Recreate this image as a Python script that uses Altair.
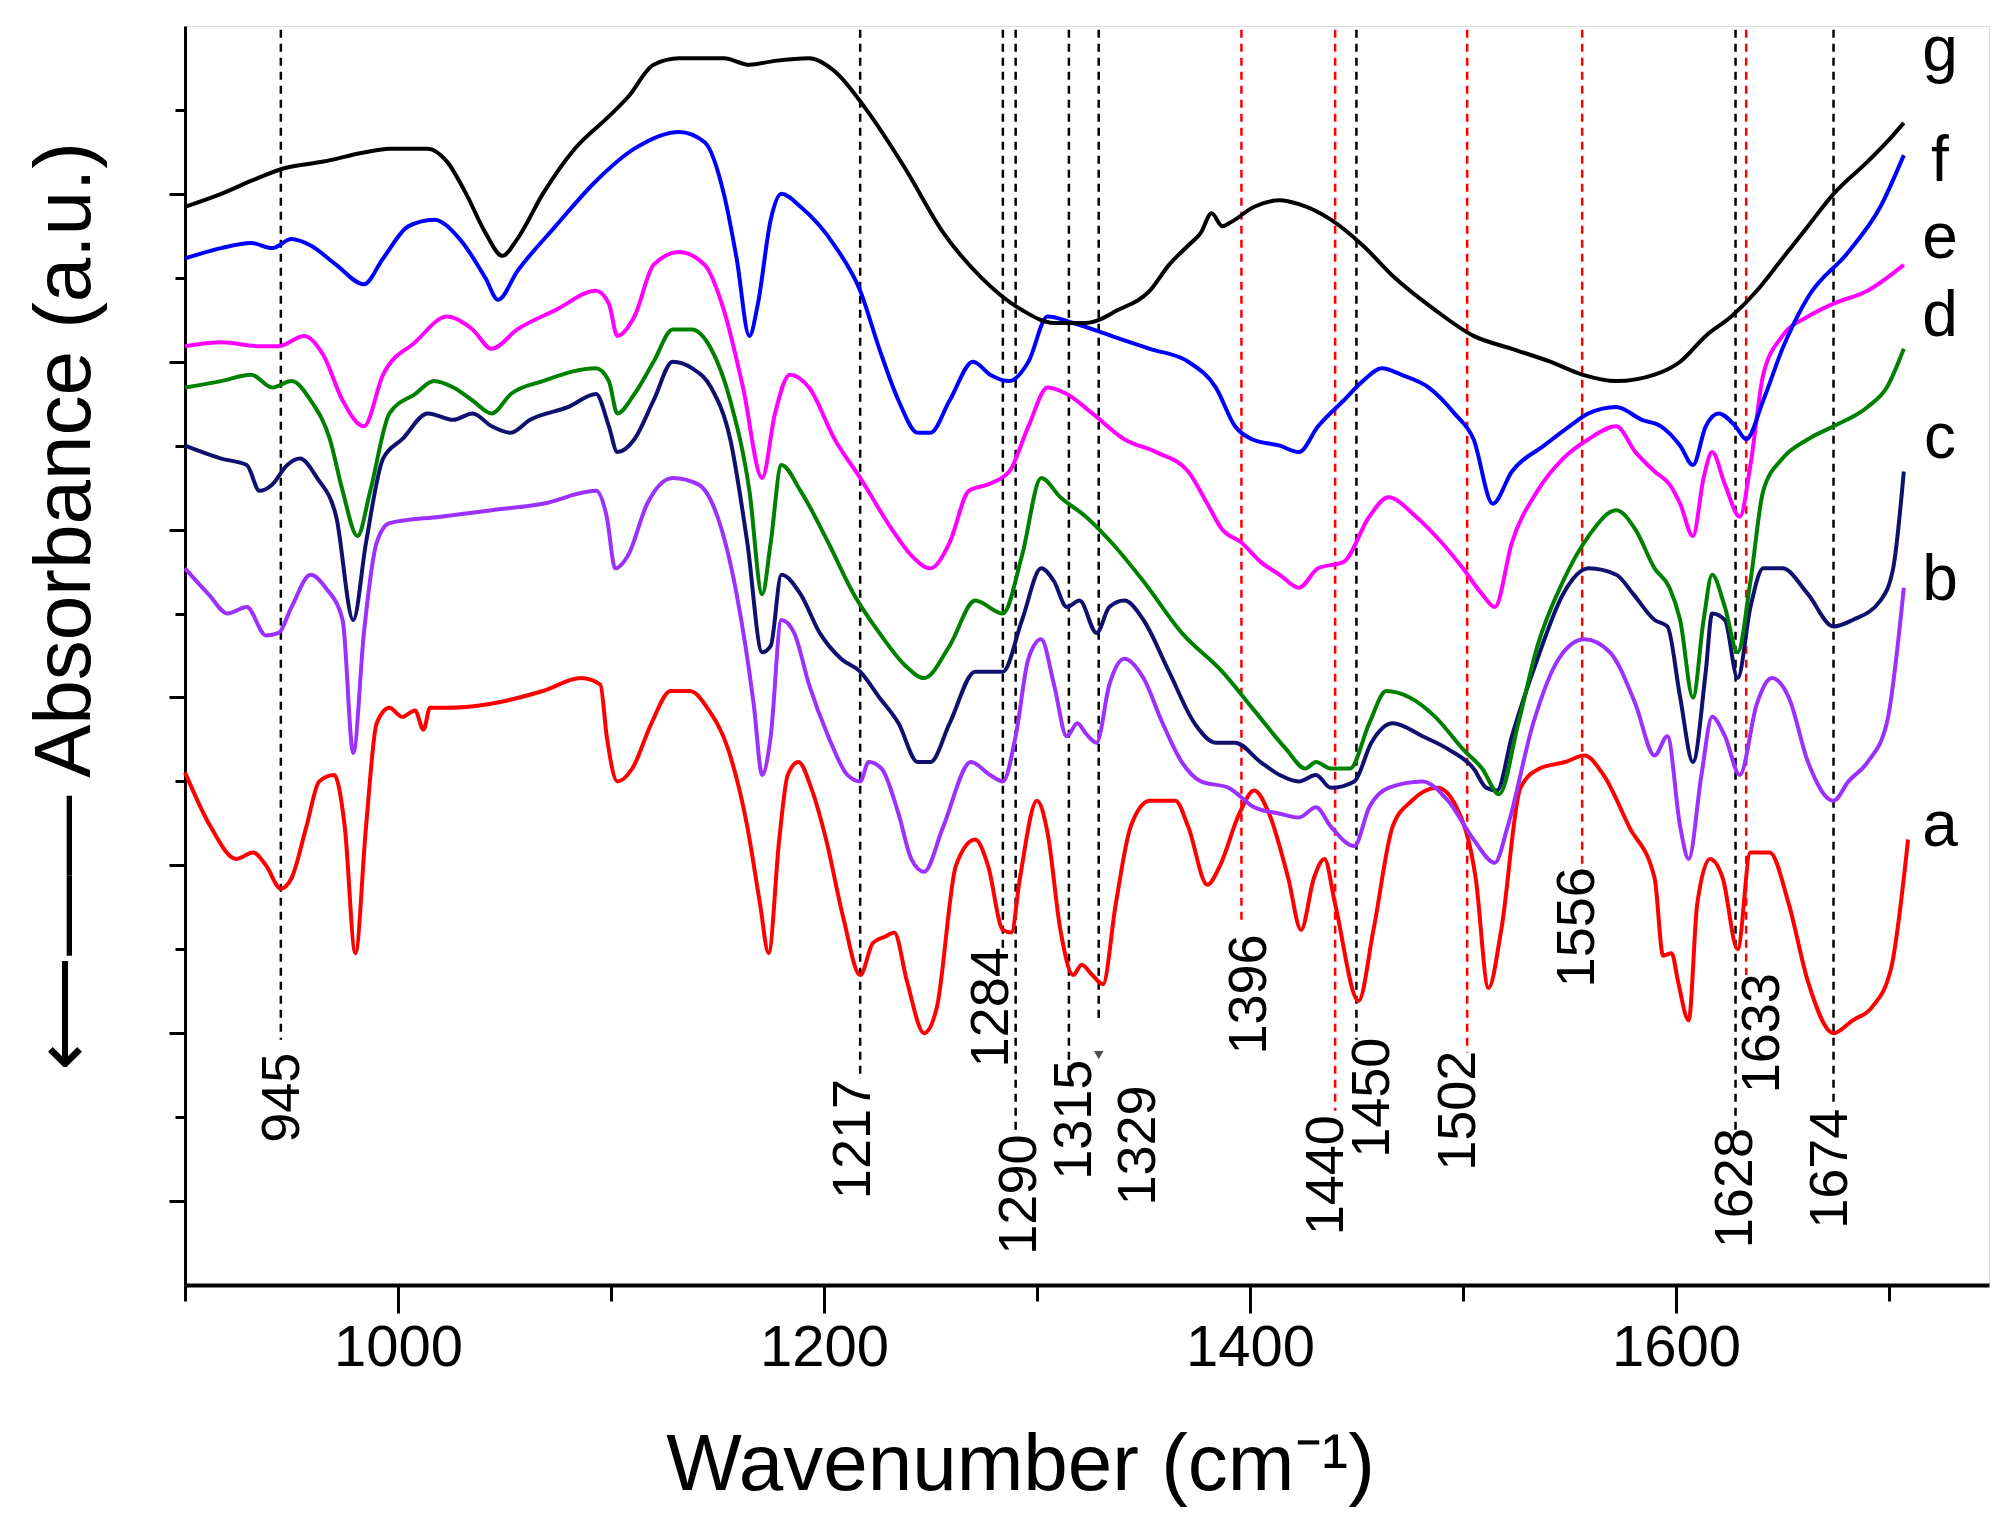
import pandas as pd
import altair as alt

# spectra: wavenumber (cm-1) and absorbance (a.u., offset per curve)
a_wn = [900,912,924,932,938,945,950,957,963,970,975,980,985,990,996,1002,1008,1012,1015,1022,1043,1068,1086,1095,1098,1103,1110,1119,1128,1137,1146,1155,1164,1170,1174,1179,1183,1188,1194,1201,1209,1217,1223,1229,1233,1239,1247,1253,1262,1271,1277,1284,1288,1292,1300,1305,1311,1317,1321,1326,1331,1337,1344,1353,1365,1371,1380,1386,1395,1402,1409,1418,1424,1430,1435,1440,1451,1458,1467,1476,1488,1497,1506,1512,1518,1527,1536,1548,1557,1566,1578,1590,1594,1598,1601,1606,1610,1616,1622,1629,1635,1644,1653,1662,1674,1683,1692,1701,1709]
a_val = [3.97,3.55,3.30,3.35,3.25,3.07,3.15,3.55,3.90,3.95,3.55,2.57,3.55,4.35,4.47,4.40,4.45,4.30,4.47,4.47,4.50,4.60,4.70,4.65,4.25,3.90,4.00,4.35,4.60,4.60,4.45,4.15,3.55,2.95,2.57,3.45,3.95,4.05,3.85,3.45,2.85,2.40,2.65,2.70,2.73,2.35,1.95,2.15,3.25,3.45,3.25,2.75,2.73,3.15,3.75,3.50,2.75,2.40,2.48,2.40,2.33,2.95,3.55,3.75,3.75,3.55,3.10,3.25,3.65,3.83,3.65,3.15,2.75,3.15,3.30,2.95,2.20,2.75,3.55,3.75,3.85,3.70,3.15,2.30,2.75,3.85,4.00,4.05,4.10,3.95,3.55,3.15,2.55,2.57,2.35,2.05,2.95,3.30,3.15,2.60,3.35,3.35,2.95,2.35,1.95,2.05,2.15,2.45,3.45]

b_wn = [900,911,920,929,938,944,950,959,966,974,979,984,990,996,1020,1044,1068,1093,1098,1102,1108,1117,1129,1141,1150,1159,1167,1171,1175,1180,1186,1193,1202,1211,1217,1221,1227,1235,1241,1247,1256,1269,1278,1284,1290,1296,1302,1308,1314,1319,1323,1328,1334,1341,1350,1359,1368,1377,1390,1402,1414,1423,1431,1438,1449,1456,1465,1481,1493,1505,1515,1521,1533,1545,1557,1569,1581,1590,1596,1602,1606,1612,1617,1623,1630,1638,1645,1653,1662,1674,1681,1690,1699,1707]
b_val = [5.55,5.35,5.20,5.25,5.03,5.05,5.25,5.50,5.40,5.15,4.12,5.05,5.75,5.90,5.95,6.00,6.05,6.15,5.95,5.55,5.65,6.05,6.25,6.20,5.95,5.35,4.50,3.95,4.25,5.15,5.05,4.65,4.25,3.95,3.90,4.05,4.00,3.65,3.30,3.20,3.55,4.05,3.95,3.90,4.25,4.85,5.00,4.65,4.25,4.35,4.27,4.20,4.65,4.85,4.70,4.35,4.05,3.90,3.85,3.70,3.65,3.62,3.70,3.55,3.40,3.70,3.85,3.90,3.75,3.45,3.27,3.55,4.35,4.85,5.00,4.90,4.50,4.10,4.25,3.55,3.30,3.95,4.40,4.25,3.95,4.50,4.70,4.55,4.05,3.75,3.90,4.05,4.35,5.40]

c_wn = [900,917,929,935,941,948,954,962,971,979,985,993,1002,1014,1026,1035,1044,1053,1062,1080,1093,1099,1103,1111,1120,1129,1138,1147,1156,1164,1171,1175,1180,1189,1198,1208,1217,1226,1235,1244,1250,1259,1271,1284,1293,1302,1308,1314,1320,1328,1334,1341,1350,1362,1374,1384,1393,1405,1414,1423,1431,1438,1449,1457,1467,1481,1493,1505,1511,1516,1523,1535,1547,1559,1572,1580,1590,1596,1602,1608,1614,1617,1623,1629,1635,1641,1650,1662,1674,1683,1696,1702,1707]
c_val = [6.50,6.40,6.35,6.15,6.20,6.35,6.40,6.25,5.95,5.15,5.75,6.40,6.55,6.75,6.70,6.75,6.65,6.60,6.70,6.80,6.90,6.65,6.45,6.55,6.85,7.15,7.10,6.95,6.55,5.75,4.90,4.95,5.50,5.35,5.05,4.85,4.75,4.55,4.35,4.05,4.05,4.35,4.75,4.75,5.15,5.55,5.45,5.25,5.30,5.05,5.25,5.30,5.15,4.75,4.35,4.20,4.20,4.05,3.95,3.90,3.95,3.85,3.90,4.20,4.35,4.25,4.15,4.00,3.85,3.83,4.25,4.85,5.35,5.55,5.50,5.35,5.15,5.10,4.55,4.05,4.75,5.20,5.15,4.70,5.25,5.55,5.55,5.35,5.10,5.15,5.30,5.55,6.30]

d_wn = [900,917,931,941,950,959,968,974,981,987,996,1008,1017,1026,1035,1044,1053,1068,1093,1099,1103,1111,1120,1129,1138,1147,1156,1165,1171,1175,1180,1189,1202,1214,1226,1238,1247,1259,1271,1284,1293,1302,1311,1323,1335,1350,1368,1387,1402,1417,1426,1431,1438,1447,1456,1464,1475,1487,1500,1509,1517,1526,1535,1547,1559,1572,1581,1590,1597,1602,1608,1613,1617,1623,1629,1635,1641,1650,1662,1674,1690,1699,1707]
d_val = [6.95,7.00,7.05,6.95,7.00,6.85,6.55,6.15,5.80,6.15,6.75,6.90,7.00,6.95,6.85,6.75,6.90,7.00,7.10,7.00,6.75,6.90,7.15,7.40,7.40,7.25,6.85,6.15,5.35,5.75,6.35,6.15,5.75,5.35,5.05,4.80,4.70,4.95,5.30,5.20,5.65,6.25,6.10,5.95,5.75,5.45,5.05,4.75,4.45,4.15,4.00,4.05,4.00,4.00,4.35,4.60,4.55,4.40,4.15,4.00,3.80,4.35,4.95,5.45,5.80,6.00,5.85,5.55,5.40,5.15,4.55,5.15,5.50,5.25,4.90,5.45,6.15,6.40,6.55,6.65,6.80,6.95,7.25]

e_wn = [900,917,935,944,956,965,974,984,993,1008,1023,1035,1044,1056,1074,1093,1099,1103,1111,1120,1132,1144,1153,1162,1171,1177,1184,1193,1205,1217,1232,1241,1250,1259,1268,1277,1287,1296,1305,1314,1326,1341,1356,1371,1380,1387,1396,1405,1414,1423,1432,1444,1456,1465,1478,1490,1500,1509,1515,1523,1535,1547,1559,1572,1581,1590,1597,1602,1608,1613,1617,1623,1630,1635,1641,1650,1662,1674,1690,1707]
e_val = [7.27,7.30,7.27,7.27,7.35,7.20,6.85,6.65,7.05,7.30,7.50,7.40,7.25,7.40,7.55,7.70,7.60,7.35,7.50,7.90,8.00,7.90,7.55,6.95,6.25,6.75,7.05,6.95,6.55,6.25,5.85,5.65,5.55,5.75,6.15,6.20,6.30,6.65,6.95,6.90,6.75,6.55,6.45,6.30,6.05,5.85,5.75,5.60,5.50,5.40,5.55,5.60,5.95,6.10,5.95,5.75,5.55,5.35,5.25,5.75,6.15,6.40,6.55,6.65,6.45,6.30,6.20,6.05,5.80,6.25,6.45,6.20,5.95,6.35,7.05,7.35,7.50,7.60,7.70,7.90]

f_wn = [900,917,931,941,950,959,971,984,993,1005,1017,1029,1041,1047,1056,1074,1093,1111,1132,1144,1153,1159,1165,1169,1175,1180,1189,1205,1217,1226,1235,1244,1250,1259,1270,1278,1287,1296,1305,1317,1335,1353,1371,1384,1393,1401,1414,1423,1432,1444,1453,1462,1471,1484,1496,1505,1514,1523,1538,1550,1559,1572,1584,1593,1602,1608,1614,1620,1628,1633,1641,1650,1662,1681,1696,1707]
f_val = [7.95,8.03,8.07,8.03,8.10,8.05,7.90,7.75,7.95,8.20,8.25,8.10,7.80,7.63,7.85,8.20,8.55,8.80,8.93,8.85,8.45,7.95,7.35,7.60,8.25,8.45,8.35,8.05,7.70,7.25,6.85,6.60,6.60,6.85,7.15,7.05,7.00,7.15,7.50,7.45,7.35,7.25,7.15,6.95,6.65,6.55,6.50,6.45,6.65,6.85,7.00,7.10,7.05,6.95,6.75,6.55,6.05,6.30,6.50,6.65,6.75,6.80,6.70,6.65,6.50,6.35,6.65,6.75,6.65,6.55,6.85,7.25,7.65,8.00,8.35,8.75]

g_wn = [900,917,931,947,965,984,996,1014,1023,1032,1041,1049,1056,1068,1083,1099,1108,1120,1132,1153,1165,1177,1193,1205,1220,1238,1256,1274,1293,1308,1323,1338,1353,1362,1371,1377,1382,1387,1391,1402,1414,1423,1438,1453,1468,1487,1505,1523,1541,1556,1572,1590,1602,1614,1626,1638,1650,1662,1674,1690,1699,1707]
g_val = [8.35,8.45,8.55,8.65,8.70,8.77,8.80,8.80,8.70,8.45,8.15,7.97,8.10,8.45,8.80,9.05,9.20,9.45,9.50,9.50,9.45,9.48,9.50,9.40,9.10,8.65,8.15,7.80,7.55,7.45,7.45,7.55,7.70,7.90,8.05,8.15,8.30,8.20,8.23,8.35,8.40,8.37,8.25,8.05,7.80,7.55,7.35,7.25,7.15,7.05,7.00,7.05,7.15,7.35,7.50,7.70,7.95,8.20,8.45,8.70,8.85,9.00]

curve_names = ["a", "b", "c", "d", "e", "f", "g"]
curve_colors = ["#ff0000", "#9b30ff", "#10106e", "#008000", "#ff00ff", "#0000ff", "#000000"]
curve_label_val = [3.55, 5.45, 6.55, 7.50, 8.10, 8.70, 9.55]

# band markers
black_bands = [945, 1217, 1284, 1290, 1315, 1329, 1450, 1628, 1674]
black_ends = [1.90, 1.60, 2.60, 1.20, 1.65, 2.05, 1.90, 1.20, 1.40]
red_bands = [1396, 1440, 1502, 1556, 1633]
red_ends = [2.80, 1.35, 1.80, 3.20, 2.40]
band_labels = ["945", "1217", "1284", "1290", "1315", "1329", "1396", "1440", "1450", "1502", "1556", "1628", "1633", "1674"]
label_wn = [946, 1214, 1279, 1292, 1318, 1348, 1400, 1436, 1458, 1498, 1554, 1628, 1641, 1673]
label_val = [1.45, 1.13, 2.15, 0.70, 1.28, 1.08, 2.25, 0.85, 1.45, 1.35, 2.77, 0.75, 1.95, 0.90]

series = {"a": (a_wn, a_val), "b": (b_wn, b_val), "c": (c_wn, c_val), "d": (d_wn, d_val),
          "e": (e_wn, e_val), "f": (f_wn, f_val), "g": (g_wn, g_val)}
rows = []
for name, (w, v) in series.items():
    for i in range(len(w)):
        rows.append({"curve": name, "wn": w[i], "val": v[i], "order": i})
spectra = pd.DataFrame(rows)

FONT = "Liberation Sans Narrow, Arial Narrow, Liberation Sans"

x_scale = alt.Scale(domain=[900, 1747], nice=False, zero=False)
y_scale = alt.Scale(domain=[0, 9.75], nice=False, zero=False)

x_axis = alt.Axis(
    values=list(range(900, 1800, 100)),
    labelExpr="datum.value % 200 == 0 ? datum.label : ''",
    format="d", grid=False, domainWidth=4, domainColor="black",
    tickColor="black", tickWidth=3,
    tickSize={"condition": {"test": "datum.value % 200 == 0", "value": 28}, "value": 16},
    labelFont=FONT, labelFontSize=58, labelColor="black", labelPadding=6,
    title="Wavenumber (cm⁻¹)", titleFont=FONT, titleFontSize=80, titleFontWeight="normal",
    titleColor="black", titleX=835, titleY=180, titleBaseline="middle",
)
y_ticks = [round(0.65 * k, 2) for k in range(1, 15)]
y_axis = alt.Axis(
    values=y_ticks, labels=False, grid=False, domainWidth=3, domainColor="black",
    tickColor="black", tickWidth=3,
    tickSize={"condition": {"test": "round(datum.value / 0.65) % 2 == 1", "value": 16}, "value": 10},
    title="⟵——  Absorbance (a.u.)", titleFont=FONT, titleFontSize=80, titleFontWeight="normal",
    titleColor="black", titleX=-120, titleY=580, titleAngle=-90, titleBaseline="middle",
)

lines = alt.Chart(spectra).mark_line(strokeWidth=4, interpolate="monotone").encode(
    x=alt.X("wn:Q", scale=x_scale, axis=x_axis),
    y=alt.Y("val:Q", scale=y_scale, axis=y_axis),
    color=alt.Color("curve:N", scale=alt.Scale(domain=curve_names, range=curve_colors), legend=None),
    order="order:Q",
)

bands = pd.DataFrame({
    "wn": black_bands + red_bands,
    "end": black_ends + red_ends,
    "top": [9.72] * (len(black_bands) + len(red_bands)),
    "kind": ["black"] * len(black_bands) + ["red"] * len(red_bands),
})
rules = alt.Chart(bands).mark_rule(strokeDash=[8, 6], strokeWidth=2.5).encode(
    x="wn:Q", y="top:Q", y2="end:Q",
    stroke=alt.Stroke("kind:N", scale=alt.Scale(domain=["black", "red"], range=["#000000", "#ff0000"]), legend=None),
)

labels = alt.Chart(pd.DataFrame({"t": band_labels, "wn": label_wn, "val": label_val})).mark_text(
    angle=270, font=FONT, fontSize=54, color="black", align="center", baseline="middle"
).encode(x="wn:Q", y="val:Q", text="t:N")

arrow = alt.Chart(pd.DataFrame({"wn": [1329], "val": [1.78]})).mark_point(
    shape="triangle-down", filled=True, color="black", size=90
).encode(x="wn:Q", y="val:Q")

names = alt.Chart(pd.DataFrame({"t": curve_names, "wn": [1724] * 7, "val": curve_label_val})).mark_text(
    font=FONT, fontSize=64, color="black", align="center", baseline="middle"
).encode(x="wn:Q", y="val:Q", text="t:N")

chart = alt.layer(rules, lines, labels, arrow, names).resolve_scale(
    color="independent", stroke="independent"
).properties(
    width=1804, height=1259,
    autosize=alt.AutoSizeParams(type="none"),
    padding={"left": 177, "top": 18, "right": 10, "bottom": 230},
).configure_view(stroke="black", strokeWidth=3).configure(background="white")

chart.save("out.html", embed_options={"renderer": "svg", "actions": False})
